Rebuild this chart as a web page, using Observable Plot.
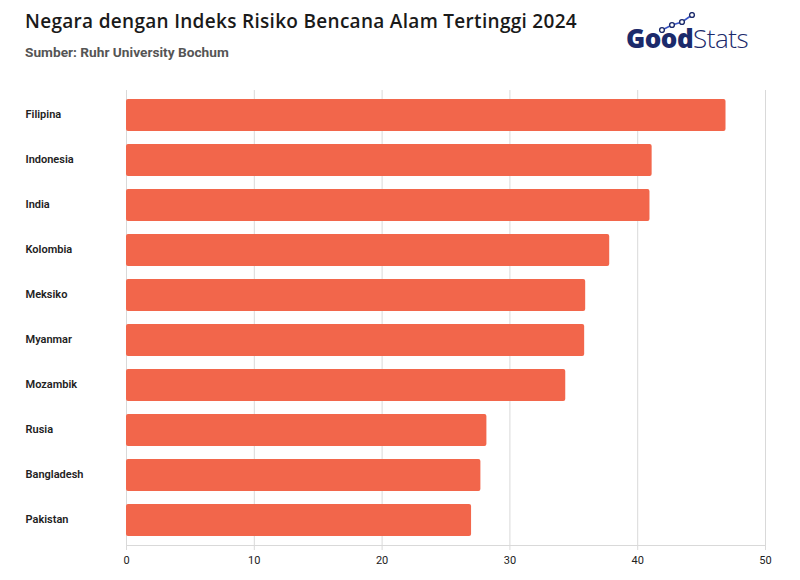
<!DOCTYPE html>
<html>
<head>
<meta charset="utf-8">
<script src="https://cdn.jsdelivr.net/npm/d3@7"></script>
<script src="https://cdn.jsdelivr.net/npm/@observablehq/plot@0.6"></script>
<style>
  html, body { margin: 0; padding: 0; background: #fff; }
  #wrap { position: relative; width: 800px; height: 580px; overflow: hidden; font-family: Roboto, "Open Sans", sans-serif; }
  #title { position: absolute; left: 25px; top: 8px; font-family: "Open Sans", sans-serif; font-size: 19px; font-weight: 600; color: #1a1a1a; white-space: nowrap; letter-spacing: 0.3px; }
  #sub { position: absolute; left: 25px; top: 44px; font-size: 13.7px; font-weight: 700; color: #555; }
  #logo { position: absolute; left: 626px; top: 20px; font-family: "Open Sans", sans-serif; font-size: 26px; color: #1b2a6b; letter-spacing: -0.5px; }
  #logo b { font-weight: 800; }
  #logo span { font-weight: 300; }
  #logo svg { position: absolute; left: 32px; top: -8px; }
  #chart { position: absolute; left: 0; top: 70px; }
</style>
</head>
<body>
<div id="wrap">
  <div id="title">Negara dengan Indeks Risiko Bencana Alam Tertinggi 2024</div>
  <div id="sub">Sumber: Ruhr University Bochum</div>
  <div id="logo"><b>Good</b><span>Stats</span>
    <svg width="40" height="22" viewBox="0 0 40 22"><polyline points="4,18 14,13 24,10 34,3" fill="none" stroke="#3a56c8" stroke-width="1.6"/><circle cx="4" cy="18" r="2.4" fill="#fff" stroke="#1b2a6b" stroke-width="1.4"/><circle cx="14" cy="13" r="2.4" fill="#fff" stroke="#1b2a6b" stroke-width="1.4"/><circle cx="24" cy="10" r="2.4" fill="#fff" stroke="#1b2a6b" stroke-width="1.4"/><circle cx="34" cy="3" r="2.4" fill="#fff" stroke="#1b2a6b" stroke-width="1.4"/></svg>
  </div>
  <div id="chart"></div>
</div>
<script>
const countries = ["Filipina", "Indonesia", "India", "Kolombia", "Meksiko", "Myanmar", "Mozambik", "Rusia", "Bangladesh", "Pakistan"];
const values = [46.91, 41.13, 40.96, 37.81, 35.93, 35.85, 34.37, 28.2, 27.73, 27.0];
const xTicks = [0, 10, 20, 30, 40, 50];

const data = countries.map((c, i) => ({country: c, value: values[i]}));

const chart = Plot.plot({
  width: 800,
  height: 510,
  marginLeft: 126,
  marginRight: 35,
  marginTop: 20,
  marginBottom: 35,
  style: {fontFamily: "Roboto, sans-serif", fontSize: "11px", color: "#222", background: "#fff"},
  x: {domain: [0, 50], ticks: xTicks, label: null},
  y: {domain: countries, label: null, paddingInner: 0.28, paddingOuter: 0.12},
  marks: [
    Plot.gridX(xTicks, {stroke: "#d9d9d9", strokeOpacity: 1, strokeWidth: 1}),
    Plot.barX(data, {x: "value", y: "country", fill: "#F2664B", rx: 2}),
    Plot.frame({anchor: "bottom", stroke: "#d9d9d9"}),
    Plot.axisX({ticks: xTicks, tickSize: 5, tickPadding: 6, stroke: "#d9d9d9", fill: "#222", fontSize: 11, label: null}),
    Plot.axisY({tickSize: 0, tickPadding: 0, textAnchor: "start", dx: -101, dy: -1, fontSize: 11, fontWeight: 600, fill: "#222", label: null})
  ]
});
document.getElementById("chart").appendChild(chart);
</script>
</body>
</html>
